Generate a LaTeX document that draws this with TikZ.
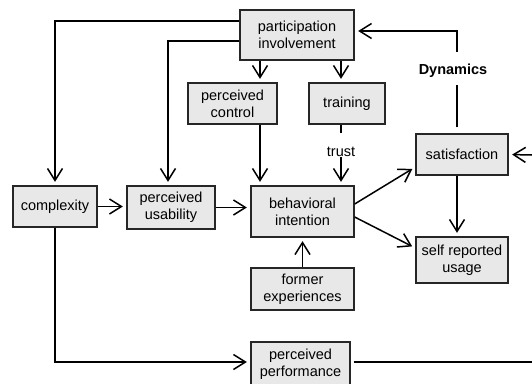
\documentclass[tikz,border=0pt]{standalone}
\usepackage{fontspec}
\setmainfont{Liberation Sans}
\usetikzlibrary{arrows.meta}
\begin{document}
\begin{tikzpicture}[x=1pt,y=-1pt,
  txt/.style={font=\fontsize{14.5}{17.3}\selectfont},
  box/.style={txt,draw=black!85,line width=1.3pt,fill=gray!18,inner sep=0pt,align=center},
  arr/.style={line width=1.5pt,-{Straight Barb[length=12pt,width=15pt]},shorten >=3.5pt},
  ln/.style={line width=1.5pt},
  lbl/.style={txt,inner sep=0pt}]
\useasboundingbox (0,0) rectangle (532,383);
\clip (0,0) rectangle (532,383);
% boxes
\node[box,minimum width=114pt,minimum height=50pt] (part) at (297,35) {participation\\involvement};
\node[box,minimum width=89pt,minimum height=41pt] (pc) at (232.5,103.5) {perceived\\control};
\node[box,minimum width=76pt,minimum height=41pt] (tr) at (347,103.5) {training};
\node[box,minimum width=84pt,minimum height=41pt] (cx) at (55,206.5) {complexity};
\node[box,minimum width=88pt,minimum height=43pt] (pu) at (171,207.5) {perceived\\usability};
\node[box,minimum width=103pt,minimum height=51pt] (bi) at (302.5,211.5) {behavioral\\intention};
\node[box,minimum width=103pt,minimum height=42pt] (fe) at (302.5,289) {former\\experiences};
\node[box,minimum width=99pt,minimum height=44pt] (pp) at (300.5,364) {perceived\\performance};
\node[box,minimum width=92pt,minimum height=41pt] (sat) at (462,154.5) {satisfaction};
\node[box,minimum width=92pt,minimum height=46pt] (sru) at (462,260) {self reported\\usage};
% labels
\node[lbl,font=\fontsize{14.5}{17.3}\selectfont\bfseries,anchor=base,text height=22pt,text depth=11pt] (dyn) at (453,74) {Dynamics};
\node[lbl,anchor=base,text height=23pt,text depth=1pt] (trust) at (341,156) {trust};
% helper coordinates
\coordinate (c260) at (260,0);
\coordinate (c341) at (341,0);
\coordinate (c457) at (457,0);
\coordinate (c168) at (168,0);
\coordinate (re1) at (532,155);
\coordinate (re2) at (532,362);
% connectors
\draw[arr] ([yshift=14pt]part.west) -| (cx.north);
\draw[arr] ([yshift=-6pt]part.west) -| (pu.north -| c168);
\draw[arr] (part.south -| c260) -- (pc.north -| c260);
\draw[arr] (part.south -| c341) -- (tr.north -| c341);
\draw[arr] (pc.south -| c260) -- (bi.north -| c260);
\draw[ln] (tr.south -| trust) -- (trust.north);
\draw[arr] (trust.south) -- (bi.north -| trust);
\draw[arr] (cx.east) -- (cx.east -| pu.west);
\draw[arr] (pu.east) -- (pu.east -| bi.west);
\draw[arr] (cx.south) |- ([yshift=2pt]pp.west);
\draw[arr] (fe.north) -- (bi.south);
\draw[arr] ([yshift=7.5pt]bi.east) -- ([yshift=-12.5pt]sat.west);
\draw[arr] ([yshift=-5.5pt]bi.east) -- ([yshift=12pt]sru.west);
\draw[arr] (sat.south -| c457) -- (sru.north -| c457);
\draw[ln,shorten <=6pt] (sat.north -| c457) -- (dyn.south -| c457);
\draw[arr] (dyn.north -| c457) |- ([yshift=4pt]part.east);
\draw[arr] (re1) -- (sat.east);
\draw[ln,shorten <=3pt] ([yshift=2pt]pp.east) -- (re2);
\end{tikzpicture}
\end{document}
